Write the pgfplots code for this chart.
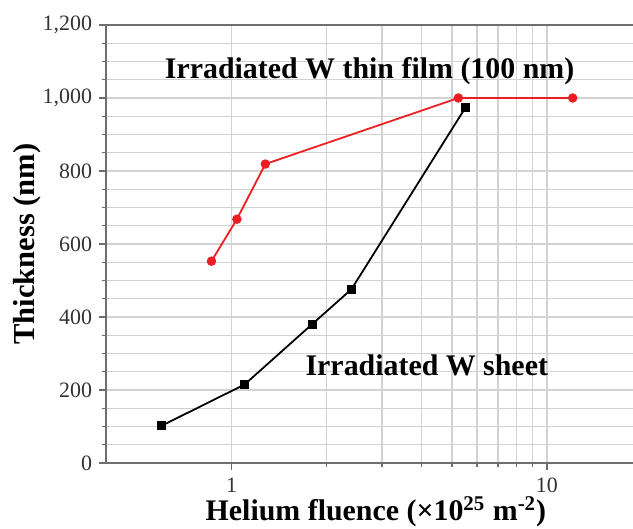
\documentclass[border=0pt]{standalone}
\usepackage{fontspec}
\setmainfont{Liberation Serif}
\usepackage{pgfplots}
\pgfplotsset{compat=1.18}
\definecolor{spine}{RGB}{110,110,110}
\definecolor{gridc}{RGB}{210,210,210}
\definecolor{redline}{RGB}{235,30,35}

\begin{document}
\begin{tikzpicture}
% axis runs a little past the right edge of the page, as in the cropped original
\begin{semilogxaxis}[scale only axis,
  width=266.2bp, height=219bp,
  xmin=0.4, xmax=19.5, ymin=0, ymax=1200,
  xtick={1,10}, xticklabels={1,10},
  ytick={0,200,...,1200}, minor ytick={0,50,...,1200},
  grid=both,
  major grid style={draw=gridc,line width=0.7pt},
  minor grid style={draw=gridc,line width=0.7pt},
  xtick pos=bottom, ytick pos=left,
  axis line style={spine,line width=0.9pt},
  tick align=outside, tick style={spine,line width=0.6pt},
  major tick length=3.5bp, minor tick length=2bp,
  /pgf/number format/assume math mode=true,
  /pgf/number format/1000 sep={,},
  tick label style={font=\fontsize{11}{13}\selectfont, text=black!80},
  xticklabel style={inner sep=0pt, text depth=0pt, yshift=-3.8bp},
  every axis y label/.style={at={(axis description cs:-0.148,0.5)},anchor=center,rotate=90,
    font=\fontsize{15.3}{17}\bfseries},
  every axis x label/.style={at={(axis description cs:0.507,0)},anchor=base,yshift=-28.9bp,
    inner sep=0pt,font=\fontsize{15}{17}\bfseries},
  xlabel={Helium fluence (×10\textsuperscript{25} m\textsuperscript{-2})},
  ylabel={Thickness (nm)},
  clip=false]
\addplot[black,line width=0.9pt,mark=square*,mark size=1.8pt] coordinates
 {(0.6,102) (1.1,215) (1.8,380) (2.4,476) (5.52,974)};
\addplot[redline,line width=0.9pt,mark=*,mark size=1.9pt] coordinates
 {(0.864,553) (1.04,668) (1.28,819) (5.24,1000) (12.07,1000)};
\node[anchor=base,font=\fontsize{15}{17}\bfseries\selectfont] at (axis cs:2.74,1054) {Irradiated W thin film (100 nm)};
\node[anchor=base,font=\fontsize{15}{17}\bfseries\selectfont] at (axis cs:4.16,241) {Irradiated W sheet};
\end{semilogxaxis}
\pgfresetboundingbox
\path[use as bounding box] (-53bp,-33bp) rectangle (263.5bp,231.5bp);
\end{tikzpicture}
\end{document}
